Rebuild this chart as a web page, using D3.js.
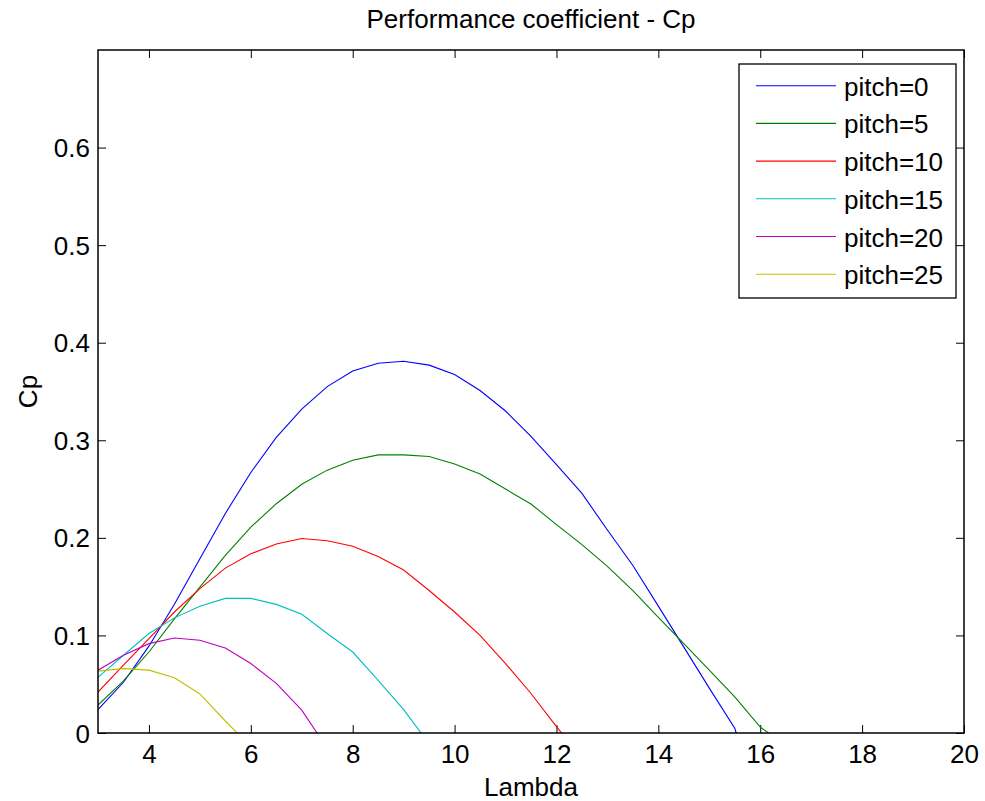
<!DOCTYPE html>
<html>
<head>
<meta charset="utf-8">
<script src="https://cdn.jsdelivr.net/npm/d3@7"></script>
<style>
  body { margin: 0; background: #fff; }
  svg { display: block; font-family: "Liberation Sans", Arial, sans-serif; }
</style>
</head>
<body>
<div id="chart"></div>
<script>
// tip speed ratio grid
let lambdas = [3, 3.5, 4, 4.5, 5, 5.5, 6, 6.5, 7, 7.5, 8, 8.5, 9, 9.5, 10, 10.5,
    11, 11.5, 12, 12.5, 13, 13.5, 14, 14.5, 15, 15.5, 16, 16.5];

let pitchLabels = ['pitch=0', 'pitch=5', 'pitch=10', 'pitch=15', 'pitch=20', 'pitch=25'];

// Cp values per pitch, one per lambda (last value dips under 0 and gets clipped)
let cpPitch0 = [0.024, 0.052, 0.089, 0.132, 0.1785, 0.225, 0.267, 0.303, 0.332, 0.355, 0.371, 0.379,
    0.381, 0.377, 0.3675, 0.351, 0.330, 0.304, 0.275, 0.2456, 0.208, 0.1717, 0.130, 0.088, 0.046, 0.0048, -0.078];
let cpPitch5 = [0.0286, 0.0535, 0.083, 0.117, 0.1495, 0.182, 0.211, 0.235, 0.255, 0.2694, 0.2796, 0.285,
    0.285, 0.2834, 0.2756, 0.2654, 0.250, 0.2347, 0.2136, 0.193, 0.1707, 0.146, 0.1185, 0.0915, 0.0645, 0.037, 0.006, -0.012];
let cpPitch10 = [0.042, 0.0695, 0.0967, 0.124, 0.148, 0.169, 0.1836, 0.1938, 0.1993, 0.197, 0.1914, 0.181,
    0.167, 0.146, 0.124, 0.100, 0.0712, 0.0405, 0.0065, -0.026];
let cpPitch15 = [0.057, 0.0797, 0.102, 0.118, 0.130, 0.138, 0.138, 0.1318, 0.1216, 0.102, 0.083, 0.054, 0.024, -0.011];
let cpPitch20 = [0.0644, 0.0797, 0.0916, 0.0974, 0.095, 0.0872, 0.0712, 0.0508, 0.0235, -0.0157];
let cpPitch25 = [0.0634, 0.066, 0.0644, 0.0566, 0.040, 0.0123, -0.0144];

let xTicks = [4, 6, 8, 10, 12, 14, 16, 18, 20];
let yTicks = [0, 0.1, 0.2, 0.3, 0.4, 0.5, 0.6];

let colors = ['#0000ff', '#008000', '#ff0000', '#00bfbf', '#bf00bf', '#bfbf00'];

let W = 985, H = 801;
let margin = { left: 98, right: 21, top: 50, bottom: 68 };
let fs = 26;

let series = [cpPitch0, cpPitch5, cpPitch10, cpPitch15, cpPitch20, cpPitch25].map((vals, i) => {
    return {
        name: pitchLabels[i],
        color: colors[i],
        points: vals.map((v, j) => ({ x: lambdas[j], y: v }))
    };
});

let svg = d3.select('#chart').append('svg')
    .attr('width', W)
    .attr('height', H);

let x = d3.scaleLinear().domain([3, 20]).range([margin.left, W - margin.right]);
let y = d3.scaleLinear().domain([0, 0.7]).range([H - margin.bottom, margin.top]);

svg.append('clipPath').attr('id', 'plotclip')
    .append('rect')
    .attr('x', x(3)).attr('y', y(0.7))
    .attr('width', x(20) - x(3)).attr('height', y(0) - y(0.7));

// ticks on all four sides, pointing inward (matlab style)
let tickLen = 8;
let bottomAxis = d3.axisBottom(x).tickValues(xTicks).tickSize(-tickLen).tickPadding(12).tickFormat(d3.format('d'));
let topAxis = d3.axisTop(x).tickValues(xTicks).tickSize(-tickLen).tickFormat('');
let leftAxis = d3.axisLeft(y).tickValues(yTicks).tickSize(-tickLen).tickPadding(8).tickFormat(d => d === 0 ? '0' : d3.format('.1f')(d));
let rightAxis = d3.axisRight(y).tickValues(yTicks).tickSize(-tickLen).tickFormat('');

let gB = svg.append('g').attr('transform', `translate(0,${y(0)})`).call(bottomAxis);
let gT = svg.append('g').attr('transform', `translate(0,${y(0.7)})`).call(topAxis);
let gL = svg.append('g').attr('transform', `translate(${x(3)},0)`).call(leftAxis);
let gR = svg.append('g').attr('transform', `translate(${x(20)},0)`).call(rightAxis);

[gB, gT, gL, gR].forEach(g => {
    g.select('.domain').remove();
    g.selectAll('.tick line').attr('stroke', '#000').attr('stroke-width', 1);
    g.selectAll('.tick text').attr('fill', '#000').attr('font-size', fs)
        .attr('font-family', '"Liberation Sans", Arial, sans-serif');
});
gB.selectAll('.tick text').attr('dy', '0.71em');
gL.selectAll('.tick text').attr('dy', '0.35em');

// lines
let line = d3.line().x(d => x(d.x)).y(d => y(d.y));

svg.append('g').attr('clip-path', 'url(#plotclip)')
    .selectAll('path').data(series).enter()
    .append('path')
    .attr('d', d => line(d.points))
    .attr('fill', 'none')
    .attr('stroke', d => d.color)
    .attr('stroke-width', 1.1);

// axes box
svg.append('rect')
    .attr('x', x(3)).attr('y', y(0.7))
    .attr('width', x(20) - x(3)).attr('height', y(0) - y(0.7))
    .attr('fill', 'none')
    .attr('stroke', '#000')
    .attr('stroke-width', 1.5);

// title and labels
svg.append('text')
    .attr('x', (x(3) + x(20)) / 2)
    .attr('y', 28)
    .attr('text-anchor', 'middle')
    .attr('font-size', fs)
    .text('Performance coefficient - Cp');

svg.append('text')
    .attr('x', (x(3) + x(20)) / 2)
    .attr('y', 796)
    .attr('text-anchor', 'middle')
    .attr('font-size', fs)
    .text('Lambda');

svg.append('text')
    .attr('transform', `translate(37,${(y(0) + y(0.7)) / 2}) rotate(-90)`)
    .attr('text-anchor', 'middle')
    .attr('font-size', fs)
    .text('Cp');

// legend
let legend = svg.append('g').attr('transform', 'translate(739,64)');
legend.append('rect')
    .attr('width', 217).attr('height', 234)
    .attr('fill', '#fff')
    .attr('stroke', '#000')
    .attr('stroke-width', 1.3);

let items = legend.selectAll('g.item').data(series).enter()
    .append('g')
    .attr('class', 'item')
    .attr('transform', (d, i) => `translate(0,${21.7 + i * 37.7})`);

items.append('line')
    .attr('x1', 17).attr('x2', 97)
    .attr('stroke', d => d.color)
    .attr('stroke-width', 1.1);

items.append('text')
    .attr('x', 105)
    .attr('y', 10)
    .attr('font-size', fs)
    .text(d => d.name);
</script>
</body>
</html>
